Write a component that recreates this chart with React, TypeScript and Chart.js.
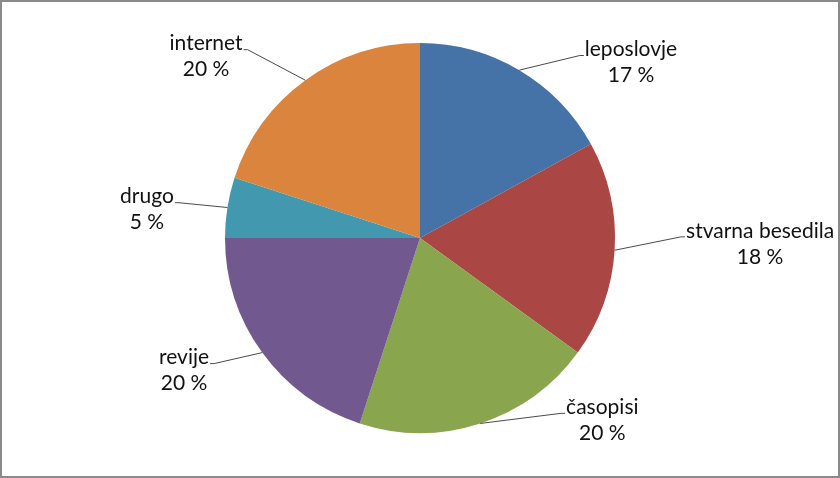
import React, { useEffect, useRef } from "react";
import { Chart, registerables } from "chart.js";

Chart.register(...registerables);

const categories = ["leposlovje", "stvarna besedila", "časopisi", "revije", "drugo", "internet"];
const shares = [17, 18, 20, 20, 5, 20];
const colors = ["#4572A7", "#AA4643", "#89A54E", "#71588F", "#4198AF", "#DB843D"];

// label centre offsets, in units of the pie radius (style only)
const labelOffsets: [number, number][] = [
  [1.082, -0.9],
  [1.744, 0.03],
  [0.935, 0.935],
  [-1.21, 0.68],
  [-1.4, -0.145],
  [-1.097, -0.93],
];

const FONT = '21px Lato, "Open Sans", sans-serif';
const LINE_GAP = 26;

const labelPlugin = {
  id: "pieLabels",
  beforeDraw(chart: any) {
    const { ctx, width, height } = chart;
    ctx.save();
    ctx.fillStyle = "#ffffff";
    ctx.fillRect(0, 0, width, height);
    ctx.restore();
  },
  afterDraw(chart: any) {
    const { ctx, width, height } = chart;
    const meta = chart.getDatasetMeta(0);
    ctx.save();
    ctx.font = FONT;
    ctx.textBaseline = "middle";
    ctx.textAlign = "center";
    meta.data.forEach((arc: any, i: number) => {
      const { x, y, outerRadius, startAngle, endAngle } = arc.getProps(
        ["x", "y", "outerRadius", "startAngle", "endAngle"],
        true
      );
      const mid = (startAngle + endAngle) / 2;
      const ex = x + outerRadius * Math.cos(mid);
      const ey = y + outerRadius * Math.sin(mid);
      const [ox, oy] = labelOffsets[i];
      const cx = x + ox * outerRadius;
      const cy = y + oy * outerRadius;
      const line1 = categories[i];
      const line2 = shares[i] + " %";
      const l1y = cy - LINE_GAP / 2;
      const l2y = cy + LINE_GAP / 2;
      const w1 = ctx.measureText(line1).width;
      const right = cx > ex;
      const ax = right ? cx - w1 / 2 - 1 : cx + w1 / 2 + 1;
      const ay = l1y + 6;
      const stub = right ? ax - 4 : ax + 4;
      ctx.strokeStyle = "#4a4a4a";
      ctx.lineWidth = 1;
      ctx.beginPath();
      ctx.moveTo(ax, ay);
      ctx.lineTo(stub, ay);
      ctx.lineTo(ex, ey);
      ctx.stroke();
      ctx.fillStyle = "#111111";
      ctx.fillText(line1, cx, l1y);
      ctx.fillText(line2, cx, l2y);
    });
    ctx.strokeStyle = "#8a8a8a";
    ctx.lineWidth = 2;
    ctx.strokeRect(1, 1, width - 2, height - 2);
    ctx.restore();
  },
};

export default function App() {
  const ref = useRef<HTMLCanvasElement | null>(null);
  useEffect(() => {
    document.body.style.margin = "0";
    if (!ref.current) return;
    const chart = new Chart(ref.current, {
      type: "pie",
      data: {
        labels: categories,
        datasets: [
          {
            data: shares,
            backgroundColor: colors,
            borderWidth: 0,
          },
        ],
      },
      options: {
        animation: false,
        responsive: false,
        layout: { padding: { top: 43, bottom: 45, left: 0, right: 0 } },
        plugins: {
          legend: { display: false },
          tooltip: { enabled: false },
        },
      },
      plugins: [labelPlugin],
    });
    return () => chart.destroy();
  }, []);
  return (
    <div style={{ width: 840, height: 478 }}>
      <canvas ref={ref} width={840} height={478} style={{ display: "block" }} />
    </div>
  );
}
